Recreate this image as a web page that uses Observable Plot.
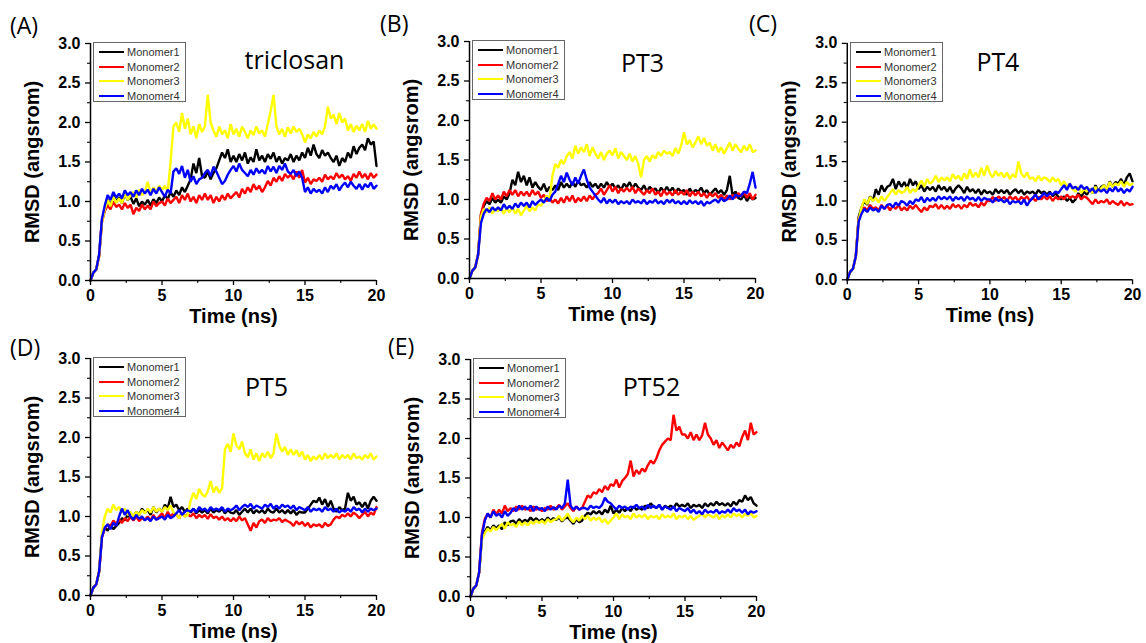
<!DOCTYPE html>
<html><head><meta charset="utf-8">
<script src="https://cdn.jsdelivr.net/npm/d3@7"></script>
<script src="https://cdn.jsdelivr.net/npm/@observablehq/plot@0.6"></script>
<style>
html,body{margin:0;padding:0;background:#fff;overflow:hidden}
#fig{position:relative;width:1146px;height:643px;background:#fff}
.panel{position:absolute}
.tag{position:absolute;font-family:"Open Sans",sans-serif;font-size:23px;line-height:23px;color:#000;white-space:nowrap}
.legend{position:absolute;width:91px;height:58px;border:1px solid #666;background:#fff;font-family:"Liberation Sans",Arial,sans-serif;font-size:11px;color:#333}
.legend .row{position:absolute;left:0;height:14px;line-height:14px;white-space:nowrap}
.legend .sw{position:absolute;left:5px;top:6px;width:25px;height:2px}
.legend .tx{position:absolute;left:33px;top:0}
</style></head><body><div id="fig"></div>
<script>
// ---- data ----
const series = ["Monomer1", "Monomer2", "Monomer3", "Monomer4"];
const colors = ["#000000", "#ff0000", "#ffff00", "#0000ff"];
const titles = ["triclosan", "PT3", "PT4", "PT5", "PT52"];
const tags = ["(A)", "(B)", "(C)", "(D)", "(E)"];
const xTicks = [0, 5, 10, 15, 20];
const xMinor = [2.5, 7.5, 12.5, 17.5];
const yTicks = [0, 0.5, 1.0, 1.5, 2.0, 2.5, 3.0];
const yMinor = [0.25, 0.75, 1.25, 1.75, 2.25, 2.75];
// time grid, ns (one sample every 0.2 ns)
const time = d3.range(101).map(i => +(i * 0.2).toFixed(1));

const triclosan1 = [0,0.1,0.14,0.32,0.76, 0.9,1.02,0.95,1.08,1.0, 1.05,0.98,1.1,1.02,1.06, 0.97,1.04,0.94,1.0,0.96, 1.02,0.95,1.03,0.98,1.05, 1.0,1.08,1.03,1.12,1.06, 1.14,1.08,1.18,1.12,1.2, 1.28,1.48,1.36,1.55,1.32, 1.3,1.38,1.28,1.36,1.42, 1.52,1.62,1.55,1.66,1.5, 1.58,1.5,1.6,1.52,1.62, 1.48,1.56,1.5,1.66,1.52, 1.58,1.5,1.6,1.54,1.62, 1.5,1.57,1.48,1.55,1.52, 1.6,1.5,1.58,1.52,1.62, 1.55,1.68,1.58,1.72,1.6, 1.55,1.65,1.58,1.62,1.55, 1.5,1.58,1.45,1.55,1.5, 1.62,1.55,1.7,1.6,1.68, 1.72,1.65,1.8,1.72,1.76, 1.45];
const triclosan2 = [0,0.1,0.14,0.3,0.74, 0.88,0.95,0.9,1.0,0.93, 0.96,0.9,0.98,0.92,0.96, 0.84,0.92,0.88,0.96,0.9, 0.95,0.9,1.0,0.94,0.98, 1.0,0.95,1.04,0.98,1.02, 1.06,0.98,1.08,1.02,1.1, 1.0,1.06,0.98,1.08,1.02, 1.1,1.02,1.08,0.98,1.06, 1.0,1.08,1.02,1.1,1.04, 1.08,1.12,1.05,1.16,1.1, 1.18,1.12,1.22,1.15,1.2, 1.12,1.18,1.26,1.2,1.3, 1.25,1.32,1.26,1.35,1.3, 1.34,1.28,1.38,1.3,1.4, 1.24,1.3,1.22,1.28,1.26, 1.3,1.25,1.34,1.28,1.32, 1.28,1.36,1.3,1.34,1.28, 1.32,1.26,1.35,1.3,1.38, 1.3,1.35,1.28,1.36,1.3, 1.34];
const triclosan3 = [0,0.1,0.14,0.3,0.74, 0.9,1.02,0.94,1.06,0.98, 1.04,0.98,1.1,1.02,1.08, 1.12,1.05,1.15,1.08,1.12, 1.25,1.1,1.18,1.12,1.2, 1.15,1.2,1.12,1.5,1.95, 2.0,1.88,2.12,1.92,2.05, 1.85,1.95,1.8,1.98,1.88, 1.95,2.35,2.0,1.9,1.82, 1.95,1.85,1.9,1.8,1.98, 1.85,1.92,1.82,1.95,1.88, 1.8,1.9,1.84,1.95,1.86, 1.9,1.82,1.98,2.15,2.35, 1.95,1.85,1.92,1.82,1.94, 1.86,1.95,1.88,1.92,1.85, 1.75,1.85,1.8,1.88,1.82, 1.9,1.85,1.95,2.2,2.05, 2.1,1.98,2.12,2.0,2.05, 1.9,1.98,1.88,1.96,1.9, 1.98,1.88,2.02,1.92,1.98, 1.92];
const triclosan4 = [0,0.1,0.14,0.32,0.78, 0.95,1.08,1.02,1.12,1.05, 1.1,1.04,1.14,1.08,1.12, 1.06,1.14,1.08,1.16,1.1, 1.15,1.08,1.16,1.1,1.18, 1.12,1.06,1.15,1.1,1.38, 1.42,1.35,1.45,1.3,1.4, 1.25,1.32,1.22,1.28,1.3, 1.36,1.4,1.32,1.44,1.38, 1.3,1.22,1.26,1.34,1.4, 1.45,1.38,1.48,1.4,1.36, 1.32,1.4,1.34,1.42,1.36, 1.4,1.35,1.45,1.38,1.44, 1.36,1.45,1.4,1.48,1.38, 1.35,1.4,1.32,1.38,1.3, 1.12,1.18,1.1,1.16,1.12, 1.15,1.1,1.18,1.12,1.2, 1.16,1.22,1.14,1.2,1.24, 1.18,1.25,1.2,1.16,1.22, 1.15,1.22,1.18,1.24,1.16, 1.2];

const pt3_1 = [0,0.1,0.14,0.3,0.8, 0.92,0.98,0.94,1.02,0.96, 1.0,0.96,1.04,1.0,1.08, 1.25,1.18,1.35,1.22,1.3, 1.18,1.28,1.15,1.22,1.16, 1.12,1.2,1.1,1.16,1.12, 1.18,1.12,1.22,1.15,1.2, 1.15,1.22,1.16,1.24,1.18, 1.2,1.15,1.22,1.16,1.2, 1.14,1.2,1.15,1.22,1.16, 1.2,1.14,1.18,1.12,1.2, 1.16,1.22,1.14,1.2,1.15, 1.12,1.18,1.1,1.16,1.12, 1.14,1.08,1.15,1.1,1.16, 1.1,1.15,1.08,1.14,1.1, 1.12,1.06,1.14,1.08,1.12, 1.1,1.15,1.08,1.12,1.06, 1.1,1.14,1.08,1.12,1.06, 1.12,1.3,1.05,1.1,1.02, 1.0,1.06,0.98,1.04,1.0, 1.02];
const pt3_2 = [0,0.1,0.14,0.3,0.82, 0.95,1.02,0.98,1.08,1.0, 1.05,1.0,1.1,1.04,1.12, 1.06,1.12,1.04,1.1,1.05, 1.1,1.04,1.12,1.06,1.1, 1.02,1.06,0.98,1.02,0.96, 1.0,0.95,1.02,0.96,1.04, 0.98,1.05,0.96,1.02,0.98, 1.04,0.98,1.05,1.0,1.06, 1.08,1.14,1.06,1.12,1.18, 1.1,1.16,1.08,1.14,1.1, 1.15,1.1,1.16,1.08,1.14, 1.1,1.06,1.12,1.08,1.14, 1.06,1.1,1.04,1.12,1.06, 1.1,1.05,1.12,1.06,1.1, 1.06,1.12,1.04,1.1,1.05, 1.1,1.04,1.08,1.02,1.08, 1.04,1.08,1.02,1.06,1.0, 1.05,1.0,1.06,1.02,1.08, 1.04,1.1,1.02,1.08,1.0, 1.06];
const pt3_3 = [0,0.1,0.14,0.3,0.78, 0.88,0.84,0.9,0.82,0.88, 0.85,0.9,0.82,0.88,0.84, 0.9,0.82,0.88,0.8,0.86, 0.92,0.85,0.9,0.86,0.94, 0.92,0.98,1.05,1.0,1.3, 1.45,1.4,1.5,1.45,1.55, 1.6,1.52,1.68,1.58,1.66, 1.6,1.7,1.55,1.66,1.58, 1.52,1.6,1.5,1.58,1.62, 1.56,1.65,1.52,1.6,1.55, 1.5,1.58,1.48,1.55,1.45, 1.28,1.5,1.55,1.48,1.56, 1.52,1.6,1.55,1.62,1.58, 1.6,1.55,1.65,1.58,1.68, 1.85,1.7,1.75,1.66,1.72, 1.8,1.7,1.78,1.68,1.72, 1.62,1.7,1.6,1.66,1.58, 1.65,1.72,1.62,1.7,1.64, 1.6,1.68,1.62,1.7,1.6, 1.62];
const pt3_4 = [0,0.1,0.14,0.3,0.7, 0.82,0.88,0.84,0.9,0.86, 0.9,0.86,0.94,0.88,0.92, 0.88,0.95,0.9,0.96,0.92, 0.96,0.9,0.98,0.93,0.97, 1.0,0.96,1.02,0.98,1.06, 1.1,1.2,1.3,1.22,1.34, 1.25,1.18,1.28,1.2,1.3, 1.38,1.25,1.15,1.1,1.05, 1.0,0.96,1.02,0.95,1.0, 0.96,1.0,0.94,0.98,0.95, 0.98,0.94,1.0,0.96,0.98, 0.95,1.0,0.94,0.98,0.96, 1.0,0.95,0.98,0.94,1.0, 0.96,1.0,0.95,0.98,0.94, 0.98,0.94,0.99,0.95,0.98, 0.94,0.98,0.92,0.97,0.95, 0.98,1.0,0.96,1.02,0.98, 1.0,1.05,1.0,1.06,1.04, 1.05,1.1,1.08,1.2,1.35, 1.15];

const pt4_1 = [0,0.1,0.14,0.3,0.8, 0.92,1.0,0.95,1.06,1.0, 1.15,1.08,1.2,1.12,1.18, 1.2,1.28,1.15,1.25,1.18, 1.24,1.16,1.28,1.2,1.25, 1.15,1.2,1.12,1.18,1.14, 1.18,1.12,1.2,1.14,1.18, 1.12,1.18,1.1,1.16,1.2, 1.16,1.1,1.18,1.12,1.15, 1.1,1.15,1.08,1.14,1.1, 1.12,1.08,1.15,1.1,1.14, 1.1,1.14,1.08,1.12,1.15, 1.1,1.14,1.08,1.12,1.1, 1.12,1.08,1.14,1.1,1.12, 1.08,1.12,1.06,1.1,1.05, 1.02,1.06,1.0,1.04,0.98, 1.02,1.1,1.05,1.12,1.08, 1.15,1.1,1.2,1.12,1.18, 1.2,1.15,1.25,1.18,1.24, 1.22,1.28,1.2,1.3,1.35, 1.25];
const pt4_2 = [0,0.1,0.14,0.3,0.78, 0.85,0.92,0.88,0.95,0.9, 0.92,0.88,0.95,0.9,0.94, 0.88,0.94,0.9,0.95,0.88, 0.92,0.88,0.94,0.9,0.95, 0.9,0.86,0.92,0.88,0.94, 0.92,0.96,0.9,0.95,0.9, 0.94,0.9,0.96,0.92,0.95, 0.9,0.95,0.92,0.98,0.94, 0.96,0.92,0.98,0.94,1.0, 1.0,1.05,1.0,1.06,1.02, 1.05,1.0,1.06,1.02,1.05, 1.0,1.05,1.02,1.06,1.0, 1.04,1.0,1.05,1.02,1.06, 1.02,1.06,1.0,1.05,1.02, 1.06,1.02,1.08,1.04,1.06, 1.04,1.08,1.02,1.06,1.04, 1.0,0.96,1.02,0.97,1.0, 0.98,1.02,0.96,1.0,0.97, 0.95,1.0,0.94,0.98,0.95, 0.96];
const pt4_3 = [0,0.1,0.14,0.3,0.76, 0.92,1.02,0.96,1.05,1.0, 1.04,0.98,1.06,1.0,1.05, 1.1,1.15,1.08,1.14,1.1, 1.12,1.18,1.1,1.15,1.12, 1.2,1.26,1.18,1.28,1.22, 1.25,1.32,1.24,1.3,1.26, 1.3,1.25,1.34,1.28,1.32, 1.26,1.35,1.28,1.4,1.3, 1.36,1.3,1.42,1.32,1.45, 1.35,1.3,1.38,1.32,1.36, 1.3,1.36,1.28,1.34,1.3, 1.5,1.35,1.3,1.36,1.28, 1.3,1.25,1.32,1.26,1.3, 1.28,1.24,1.3,1.25,1.28, 1.2,1.25,1.18,1.22,1.15, 1.12,1.18,1.1,1.15,1.12, 1.15,1.1,1.18,1.12,1.16, 1.2,1.15,1.24,1.18,1.22, 1.2,1.25,1.18,1.24,1.2, 1.22];
const pt4_4 = [0,0.1,0.14,0.3,0.74, 0.84,0.9,0.86,0.92,0.88, 0.9,0.86,0.94,0.9,0.95, 0.96,0.92,0.98,0.94,1.0, 0.98,0.94,1.0,0.96,1.02, 1.0,1.05,0.98,1.04,1.0, 1.04,1.0,1.06,1.02,1.05, 1.02,1.06,1.0,1.05,1.02, 1.05,1.0,1.06,1.02,1.04, 1.0,1.05,1.0,1.04,1.02, 1.02,0.98,1.04,1.0,1.02, 0.98,1.02,0.96,1.0,0.98, 1.0,0.96,1.02,0.94,1.0, 1.04,1.08,1.02,1.06,1.1, 1.06,1.1,1.08,1.12,1.1, 1.15,1.2,1.14,1.22,1.16, 1.18,1.14,1.2,1.15,1.18, 1.12,1.16,1.1,1.15,1.12, 1.15,1.1,1.16,1.12,1.18, 1.12,1.16,1.1,1.15,1.12, 1.18];

const pt5_1 = [0,0.1,0.14,0.3,0.75, 0.86,0.82,0.9,0.84,0.88, 0.92,0.98,0.95,1.02,0.98, 1.0,1.06,1.02,1.1,1.05, 1.08,1.02,1.12,1.05,1.1, 1.06,1.15,1.1,1.25,1.12, 1.15,1.08,1.12,1.06,1.1, 1.05,1.1,1.04,1.08,1.05, 1.08,1.04,1.1,1.05,1.08, 1.06,1.1,1.04,1.08,1.05, 1.04,1.08,1.02,1.06,1.1, 1.05,1.1,1.04,1.08,1.05, 1.08,1.04,1.1,1.06,1.05, 1.1,1.05,1.08,1.04,1.08, 1.04,1.08,1.02,1.06,1.05, 1.05,1.1,1.15,1.2,1.18, 1.24,1.15,1.22,1.12,1.2, 1.1,1.06,1.12,1.08,1.1, 1.3,1.2,1.25,1.15,1.18, 1.12,1.18,1.1,1.2,1.25, 1.2];
const pt5_2 = [0,0.1,0.14,0.3,0.74, 0.85,0.9,0.88,0.95,0.9, 0.96,0.92,0.98,0.94,1.0, 0.95,1.0,0.94,0.98,0.96, 1.0,0.95,1.02,0.96,1.0, 1.04,0.98,1.06,1.0,1.04, 1.02,0.98,1.05,1.0,1.03, 1.0,1.04,0.98,1.02,0.99, 1.02,0.97,1.03,0.98,1.0, 0.96,1.0,0.95,0.98,0.94, 0.98,0.94,1.0,0.95,0.98, 0.9,0.82,0.92,0.86,0.94, 0.96,0.92,0.98,0.94,0.96, 0.95,0.98,0.93,0.96,0.94, 0.92,0.88,0.94,0.9,0.93, 0.88,0.92,0.86,0.9,0.88, 0.9,0.86,0.92,0.88,0.9, 0.96,1.0,0.98,1.02,1.0, 1.04,1.0,1.05,1.02,0.98, 1.02,1.06,1.0,1.05,1.02, 1.12];
const pt5_3 = [0,0.1,0.14,0.3,0.8, 1.0,1.1,1.05,1.15,1.08, 1.12,1.05,1.1,1.02,1.06, 1.0,1.06,1.02,1.08,1.04, 1.1,1.05,1.12,1.06,1.1, 1.06,1.12,1.08,1.14,1.05, 1.02,0.98,1.04,1.0,1.02, 1.2,1.3,1.22,1.35,1.28, 1.25,1.32,1.45,1.3,1.38, 1.3,1.36,1.85,1.92,1.82, 2.05,1.9,1.85,1.95,1.8, 1.75,1.85,1.72,1.8,1.7, 1.8,1.75,1.82,1.74,1.8, 2.05,1.9,1.82,1.88,1.78, 1.85,1.78,1.84,1.76,1.82, 1.72,1.78,1.7,1.76,1.72, 1.78,1.72,1.8,1.74,1.78, 1.74,1.8,1.72,1.78,1.74, 1.78,1.72,1.8,1.74,1.76, 1.72,1.78,1.74,1.8,1.72, 1.76];
const pt5_4 = [0,0.1,0.14,0.3,0.74, 0.86,0.9,0.84,0.92,0.88, 1.0,1.1,1.02,1.08,1.0, 0.96,1.02,0.97,1.0,0.95, 0.98,0.94,1.0,0.96,0.98, 1.0,0.96,1.02,0.98,1.0, 1.04,1.08,1.02,1.06,1.08, 1.06,1.1,1.05,1.12,1.08, 1.1,1.06,1.12,1.08,1.1, 1.08,1.12,1.06,1.1,1.08, 1.1,1.14,1.08,1.12,1.15, 1.12,1.16,1.1,1.14,1.12, 1.1,1.15,1.12,1.16,1.1, 1.14,1.1,1.15,1.12,1.14, 1.1,1.14,1.08,1.12,1.1, 1.08,1.12,1.06,1.1,1.08, 1.1,1.06,1.12,1.08,1.1, 1.06,1.1,1.05,1.08,1.06, 1.1,1.06,1.12,1.08,1.1, 1.05,1.1,1.06,1.1,1.08, 1.1];

const pt52_1 = [0,0.1,0.14,0.3,0.74, 0.82,0.88,0.84,0.9,0.86, 0.9,0.85,0.94,0.9,0.95, 0.96,0.92,0.98,0.94,0.97, 0.95,1.0,0.96,0.99,0.95, 0.98,0.95,1.0,0.96,0.99, 0.97,1.0,0.95,0.99,1.0, 0.96,0.92,0.98,0.94,0.96, 1.02,1.06,1.04,1.08,1.05, 1.08,1.04,1.1,1.06,1.15, 1.05,1.1,1.06,1.12,1.08, 1.12,1.08,1.14,1.1,1.12, 1.1,1.15,1.12,1.18,1.14, 1.12,1.16,1.1,1.15,1.12, 1.15,1.12,1.18,1.14,1.16, 1.14,1.18,1.12,1.16,1.14, 1.16,1.12,1.18,1.14,1.18, 1.15,1.2,1.16,1.18,1.15, 1.18,1.14,1.2,1.16,1.22, 1.2,1.28,1.22,1.26,1.18, 1.15];
const pt52_2 = [0,0.1,0.14,0.3,0.8, 0.98,1.05,1.0,1.1,1.04, 1.1,1.05,1.15,1.08,1.12, 1.08,1.14,1.1,1.15,1.1, 1.12,1.08,1.14,1.1,1.12, 1.08,1.12,1.1,1.15,1.1, 1.12,1.16,1.1,1.14,1.18, 1.12,1.08,1.14,1.1,1.12, 1.2,1.28,1.25,1.32,1.3, 1.36,1.32,1.4,1.35,1.42, 1.4,1.48,1.38,1.46,1.5, 1.55,1.72,1.52,1.6,1.55, 1.62,1.58,1.66,1.72,1.68, 1.75,1.85,1.92,1.96,2.0, 1.98,2.3,2.1,2.15,2.05, 2.05,2.0,2.08,1.98,2.05, 1.98,2.04,2.2,2.05,2.0, 1.92,1.98,1.88,1.95,1.9, 1.85,1.92,1.88,1.95,1.9, 2.02,2.1,1.98,2.2,2.05, 2.08];
const pt52_3 = [0,0.1,0.14,0.3,0.72, 0.8,0.86,0.82,0.88,0.84, 0.88,0.92,0.86,0.94,0.9, 0.92,0.88,0.95,0.9,0.94, 0.9,0.95,0.92,0.96,0.93, 0.96,0.92,0.98,0.94,0.97, 0.98,1.02,0.96,1.0,1.05, 0.98,0.94,1.0,0.96,1.02, 0.98,1.02,0.96,1.0,0.97, 1.0,0.94,0.98,0.92,0.96, 1.0,1.05,0.98,1.04,1.0, 1.02,0.98,1.05,1.0,1.03, 1.0,1.04,0.98,1.02,1.0, 1.02,0.98,1.04,1.0,1.02, 1.0,1.05,0.98,1.02,1.0, 1.03,0.98,1.02,0.97,1.0, 1.02,1.05,1.0,1.04,1.02, 1.0,1.04,0.98,1.03,1.0, 1.04,1.0,1.05,1.02,1.04, 1.0,1.05,1.02,1.06,1.0, 1.02];
const pt52_4 = [0,0.1,0.14,0.3,0.78, 0.96,1.05,1.0,1.08,1.02, 1.05,1.0,1.08,1.02,1.06, 1.12,1.08,1.15,1.1,1.14, 1.1,1.15,1.08,1.14,1.1, 1.12,1.08,1.14,1.1,1.13, 1.1,1.15,1.12,1.18,1.48, 1.15,1.1,1.14,1.1,1.12, 1.12,1.1,1.15,1.12,1.14, 1.12,1.16,1.25,1.2,1.18, 1.14,1.1,1.15,1.12,1.14, 1.1,1.14,1.12,1.16,1.12, 1.14,1.1,1.16,1.12,1.15, 1.12,1.16,1.1,1.14,1.12, 1.1,1.14,1.08,1.12,1.1, 1.08,1.12,1.06,1.1,1.05, 1.08,1.04,1.1,1.06,1.08, 1.06,1.1,1.05,1.08,1.06, 1.1,1.06,1.12,1.08,1.1, 1.06,1.1,1.04,1.08,1.06, 1.08];

const panelValues = [
  [triclosan1, triclosan2, triclosan3, triclosan4],
  [pt3_1, pt3_2, pt3_3, pt3_4],
  [pt4_1, pt4_2, pt4_3, pt4_4],
  [pt5_1, pt5_2, pt5_3, pt5_4],
  [pt52_1, pt52_2, pt52_3, pt52_4]
];

// ---- layout (plot-area origin in page, title offsets, tag positions) ----
const layout = [
  {left: 90,  top: 43,  tdx: 61, tdy: 17, tagX: 10,  tagY: 14},
  {left: 469, top: 41,  tdx: 30, tdy: 22, tagX: 380, tagY: 12},
  {left: 847, top: 43,  tdx: 8,  tdy: 20, tagX: 749, tagY: 12},
  {left: 90,  top: 358, tdx: 33, tdy: 29, tagX: 10,  tagY: 336},
  {left: 470, top: 359, tdx: 38, tdy: 28, tagX: 388, tagY: 335}
];
const ML = 90, MT = 43, PW = 286, PH = 237, MR = 14, MB = 48;

const fig = document.getElementById("fig");

panelValues.forEach((vals, p) => {
  const L = layout[p];
  const rows = [];
  vals.forEach((arr, k) => arr.forEach((v, i) => rows.push({t: time[i], v, s: series[k]})));

  const chart = Plot.plot({
    width: ML + PW + MR, height: MT + PH + MB,
    marginLeft: ML, marginRight: MR, marginTop: MT, marginBottom: MB,
    style: {fontFamily: '"Liberation Sans", Arial, sans-serif', fontWeight: "bold", background: "transparent", overflow: "visible", color: "#000"},
    x: {domain: [0, 20], label: null},
    y: {domain: [0, 3], label: null},
    color: {domain: series, range: colors},
    marks: [
      Plot.line(rows, {x: "t", y: "v", z: "s", stroke: "s", strokeWidth: 2.4, strokeLinejoin: "miter"}),
      Plot.ruleX([0], {stroke: "#000", strokeWidth: 1.5}),
      Plot.ruleY([0], {stroke: "#000", strokeWidth: 1.5}),
      Plot.axisX({ticks: xTicks, tickSize: 5, tickPadding: 4, fontSize: 16, strokeWidth: 1.3, tickFormat: d => String(d), label: null}),
      Plot.axisX({ticks: xMinor, tickSize: 3, strokeWidth: 1.1, tickFormat: () => "", label: null}),
      Plot.axisY({ticks: yTicks, tickSize: 5, tickPadding: 5, fontSize: 16, strokeWidth: 1.3, tickFormat: d3.format(".1f"), label: null}),
      Plot.axisY({ticks: yMinor, tickSize: 3, strokeWidth: 1.1, tickFormat: () => "", label: null}),
      Plot.text(["Time (ns)"], {text: d => d, frameAnchor: "bottom", textAnchor: "middle", lineAnchor: "middle", dy: 36, fontSize: 20}),
      Plot.text(["RMSD (angsrom)"], {text: d => d, frameAnchor: "left", textAnchor: "middle", lineAnchor: "middle", dx: -58, rotate: -90, fontSize: 20}),
      Plot.text([titles[p]], {text: d => d, frameAnchor: "top", textAnchor: "middle", lineAnchor: "middle", dx: L.tdx, dy: L.tdy, fontSize: 25, fontWeight: "normal", fontFamily: '"Open Sans", sans-serif'})
    ]
  });
  const wrap = document.createElement("div");
  wrap.className = "panel";
  wrap.style.left = (L.left - ML) + "px";
  wrap.style.top = (L.top - MT) + "px";
  wrap.appendChild(chart);
  fig.appendChild(wrap);

  // legend box inside the plot area
  const lg = document.createElement("div");
  lg.className = "legend";
  lg.style.left = (L.left + 3) + "px";
  lg.style.top = (L.top - 1) + "px";
  series.forEach((name, k) => {
    const r = document.createElement("div");
    r.className = "row";
    r.style.top = Math.round(2 + k * 14.6) + "px";
    r.style.width = "91px";
    const sw = document.createElement("div");
    sw.className = "sw";
    sw.style.background = colors[k];
    const tx = document.createElement("div");
    tx.className = "tx";
    tx.textContent = name;
    r.appendChild(sw); r.appendChild(tx);
    lg.appendChild(r);
  });
  fig.appendChild(lg);

  const tg = document.createElement("div");
  tg.className = "tag";
  tg.style.left = L.tagX + "px";
  tg.style.top = L.tagY + "px";
  tg.textContent = tags[p];
  fig.appendChild(tg);
});
</script></body></html>
